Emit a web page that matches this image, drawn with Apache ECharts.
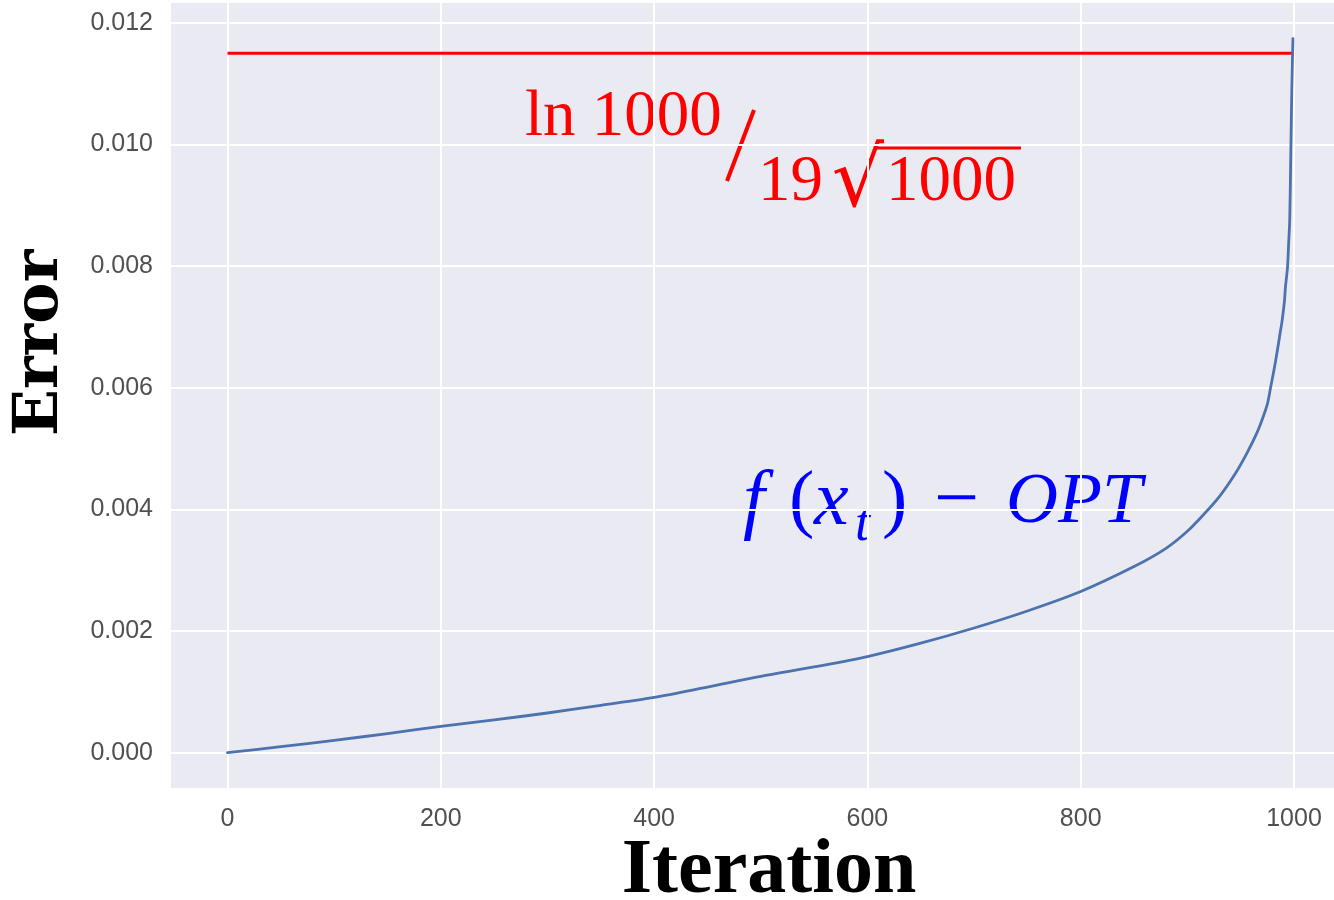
<!DOCTYPE html>
<html>
<head>
<meta charset="utf-8">
<script src="https://cdn.jsdelivr.net/npm/echarts@6/dist/echarts.min.js"></script>
<style>
html,body{margin:0;padding:0;background:#fff;}
#chart{width:1334px;height:900px;}
</style>
</head>
<body>
<div id="chart"></div>
<script>
// ---- data ----
const iterations = [0, 50, 100, 150, 200, 250, 300, 350, 400, 450, 500, 550, 600, 650, 700, 750, 800, 850, 880, 900, 915, 930, 945, 956, 965, 970, 975, 978, 981, 984, 987, 989, 991, 992, 993, 994, 995, 996, 997, 998, 999];
const errors = [0, 0.0001, 0.000203, 0.000315, 0.000433, 0.00054, 0.000653, 0.00078, 0.00091, 0.00108, 0.001255, 0.00141, 0.00158, 0.0018, 0.00205, 0.00233, 0.00265, 0.00306, 0.00336, 0.00364, 0.00391, 0.00421, 0.00459, 0.00493, 0.00525, 0.00547, 0.00573, 0.0060, 0.00627, 0.00657, 0.00690, 0.00712, 0.00742, 0.00766, 0.00782, 0.0080, 0.00838, 0.00876, 0.00985, 0.01095, 0.01174];
const boundX = [0, 1000];
const boundY = [0.0115, 0.0115];
const xTicks = [0, 200, 400, 600, 800, 1000];
const yTicks = [0, 0.002, 0.004, 0.006, 0.008, 0.010, 0.012];

const chart = echarts.init(document.getElementById('chart'), null, {renderer: 'canvas'});
const tickFont = "'Liberation Sans', Arial, sans-serif";
const serif = "'Liberation Serif', 'Times New Roman', serif";

const option = {
  animation: false,
  backgroundColor: '#ffffff',
  grid: {left: 171, top: 3, right: 0, bottom: 112, show: true, backgroundColor: '#EAEAF2', borderWidth: 0},
  xAxis: {
    type: 'value', min: -53, max: 1037.5,
    axisLine: {show: false},
    axisTick: {show: false, customValues: xTicks},
    axisLabel: {customValues: xTicks, margin: 19, fontFamily: tickFont, fontSize: 25, color: '#505050',
      formatter: v => String(Math.round(v))},
    splitLine: {show: true, lineStyle: {color: '#ffffff', width: 2}}
  },
  yAxis: {
    type: 'value', min: -0.00058, max: 0.012324,
    axisLine: {show: false},
    axisTick: {show: false, customValues: yTicks},
    axisLabel: {customValues: yTicks, margin: 18, fontFamily: tickFont, fontSize: 25, color: '#505050',
      formatter: v => v.toFixed(3)},
    splitLine: {show: true, lineStyle: {color: '#ffffff', width: 2}}
  },
  series: [
    {
      type: 'line', name: 'bound', data: boundX.map((x, i) => [x, boundY[i]]),
      showSymbol: false, lineStyle: {color: '#ff0000', width: 3}, z: 2
    },
    {
      type: 'line', name: 'error', data: iterations.map((x, i) => [x, errors[i]]),
      showSymbol: false, smooth: 0.3,
      lineStyle: {color: '#4C72B0', width: 2.8, cap: 'round', join: 'round'}, z: 3
    }
  ],
  graphic: [
    {type: 'text', x: 41, y: 343, rotation: Math.PI / 2,
      style: {text: 'Error', font: "bold 62px 'DejaVu Serif', serif", fill: '#000', align: 'center', verticalAlign: 'middle'}},
    {type: 'text', x: 769, y: 872,
      style: {text: 'Iteration', font: "bold 78px " + serif, fill: '#000', align: 'center', verticalAlign: 'middle'}},
    // red formula
    {type: 'text', x: 525, y: 118,
      style: {text: 'ln 1000', font: "65px " + serif, fill: '#ff0000', align: 'left', verticalAlign: 'middle'}},
    {type: 'line', shape: {x1: 727, y1: 181, x2: 754, y2: 110}, style: {stroke: '#ff0000', lineWidth: 4}},
    {type: 'text', x: 758, y: 183,
      style: {text: '19', font: "65px " + serif, fill: '#ff0000', align: 'left', verticalAlign: 'middle'}},
    {type: 'text', x: 858, y: 185,
      style: {text: '\u221A', font: "82px 'DejaVu Sans', sans-serif", fill: '#ff0000', align: 'center', verticalAlign: 'middle'}},
    {type: 'line', shape: {x1: 876, y1: 148, x2: 1021, y2: 148}, style: {stroke: '#ff0000', lineWidth: 3}},
    {type: 'text', x: 886, y: 183,
      style: {text: '1000', font: "65px " + serif, fill: '#ff0000', align: 'left', verticalAlign: 'middle'}},
    // blue formula
    {type: 'text', x: 743, y: 503,
      style: {text: 'f', font: "italic 78px " + serif, fill: '#0000ff', align: 'left', verticalAlign: 'middle'}},
    {type: 'text', x: 789, y: 503,
      style: {text: '(', font: "76px " + serif, fill: '#0000ff', align: 'left', verticalAlign: 'middle'}},
    {type: 'text', x: 814, y: 503,
      style: {text: 'x', font: "italic 78px " + serif, fill: '#0000ff', align: 'left', verticalAlign: 'middle'}},
    {type: 'text', x: 855, y: 526,
      style: {text: 't', font: "italic 54px " + serif, fill: '#0000ff', align: 'left', verticalAlign: 'middle'}},
    {type: 'text', x: 882, y: 503,
      style: {text: ')', font: "76px " + serif, fill: '#0000ff', align: 'left', verticalAlign: 'middle'}},
    {type: 'text', x: 934, y: 503,
      style: {text: '\u2212', font: "80px " + serif, fill: '#0000ff', align: 'left', verticalAlign: 'middle'}},
    {type: 'text', x: 1006, y: 503,
      style: {text: 'OPT', font: "italic 72px " + serif, fill: '#0000ff', align: 'left', verticalAlign: 'middle'}}
  ]
};
chart.setOption(option);
</script>
</body>
</html>
